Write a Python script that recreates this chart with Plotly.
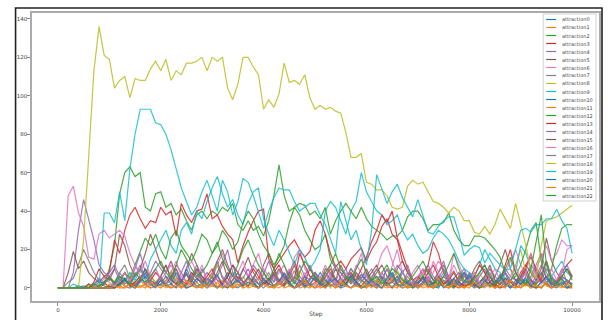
import plotly.graph_objects as go

steps = list(range(0, 10001, 100))
names = ["attraction%d" % i for i in range(23)]
x_ticks = [0, 2000, 4000, 6000, 8000, 10000]
x_tick_labels = ["0", "2000", "4000", "6000", "8000", "10000"]
y_ticks = [0, 20, 40, 60, 80, 100, 120, 140]

a0 = [0,0,0,0,1,0,2,0,1,3, 0,2,5,1,0,3,6,2,0,1, 4,2,0,1,3,7,2,0,1,4, 2,0,3,8,1,0,2,5,1,0, 3,1,0,2,6,3,0,1,4,2, 0,3,1,5,2,0,1,6,3,0, 2,4,1,0,3,7,2,0,1,3, 0,2,5,1,0,4,2,0,3,1, 6,2,0,1,3,0,2,8,1,0, 2,4,1,0,3,5,1,0,2,4, 1]
a1 = [0,0,0,0,0,0,1,0,0,2, 1,0,3,1,0,2,4,1,0,1, 2,0,1,5,2,0,1,3,0,2, 6,1,0,2,1,4,0,1,3,0, 2,5,1,0,2,8,3,0,1,2, 0,1,4,2,0,1,3,6,1,0, 2,1,0,3,1,0,2,5,1,0, 1,3,0,2,4,1,0,1,2,0, 3,1,0,2,6,1,0,3,1,0, 2,1,4,0,1,2,0,3,1,0, 1]
a2 = [0,0,0,0,0,0,0,0,0,2, 10,22,49,60,63,58,60,42,40,49, 50,42,44,38,41,35,30,38,40,36, 40,38,42,40,44,33,30,35,30,32, 27,35,48,64,48,40,42,38,30,25, 20,22,28,15,10,8,5,10,6,4, 2,5,3,8,12,6,4,2,0,1, 3,5,2,0,1,4,2,0,3,6, 4,2,0,1,3,0,2,5,3,1, 0,2,4,1,0,3,5,2,1,0, 2]
a3 = [0,0,0,0,0,0,0,3,10,6, 8,25,18,30,38,42,36,31,35,34, 42,38,40,27,44,38,34,40,41,49, 36,38,32,28,25,13,22,29,35,40, 41,15,10,14,18,22,25,20,16,19, 30,35,28,18,11,14,10,15,18,21, 14,20,24,32,36,28,25,14,8,4, 2,6,12,24,18,8,3,1,0,2, 4,1,0,3,6,2,0,1,4,2, 8,12,16,10,4,2,0,3,8,12, 15]
a4 = [0,0,0,8,30,46,35,25,12,8, 6,10,4,8,3,6,12,5,8,14, 10,6,4,12,8,3,6,10,4,8, 5,12,6,3,8,4,10,6,12,8, 4,2,6,10,4,8,3,12,6,4, 8,5,2,6,12,8,4,10,6,3, 6,10,4,8,3,6,12,8,4,2, 4,8,12,6,3,8,4,2,6,10, 4,2,8,12,6,3,5,10,6,4, 2,6,12,8,4,10,6,3,8,12, 6]
a5 = [0,0,8,19,10,14,8,5,3,6, 4,10,28,22,12,6,10,18,28,20, 12,8,14,6,3,10,18,12,6,4, 8,14,20,12,6,3,10,16,8,4, 12,18,10,4,2,8,14,6,3,10, 6,3,10,8,4,12,6,2,8,5, 10,4,8,12,6,3,10,14,8,4, 2,6,10,4,8,12,6,3,5,8, 4,10,14,8,3,6,12,20,10,4, 6,12,8,4,10,26,14,8,4,2, 6]
a6 = [0,0,48,53,39,32,16,15,28,30, 26,28,30,27,18,12,8,14,6,10, 4,8,12,6,3,10,14,8,4,2, 6,12,18,10,4,8,14,6,3,5, 10,6,3,8,12,4,16,20,10,6, 4,2,8,5,3,10,6,4,12,8, 3,6,10,18,22,14,6,4,2,8, 12,6,3,8,14,10,4,18,12,6, 4,8,3,6,10,4,2,8,14,20, 12,6,4,10,16,22,14,18,25,22, 22]
a7 = [0,0,3,5,12,20,14,8,4,2, 6,3,8,12,5,2,4,10,6,3, 1,4,8,3,0,2,6,12,4,1, 3,6,2,0,4,8,3,1,5,2, 0,3,7,2,1,4,9,3,0,2, 5,1,3,8,2,0,4,6,1,3, 7,2,0,4,10,3,1,2,6,2, 0,3,8,4,1,2,5,9,3,0, 2,6,1,3,8,2,0,4,3,1, 5,2,0,3,7,14,6,2,1,4, 2]
a8 = [0,0,0,0,0,0,2,1,0,3, 5,2,0,4,8,3,1,2,6,2, 0,3,9,4,1,2,5,3,0,4, 7,12,5,2,0,3,6,2,1,4, 8,3,0,2,5,1,3,9,4,1, 2,6,3,0,4,2,1,5,8,3, 0,2,6,3,1,4,9,5,2,0, 3,7,2,1,4,2,0,3,6,2, 1,4,8,3,0,2,5,1,3,12, 20,8,2,0,3,6,2,1,4,2, 1]
a9 = [0,0,0,2,1,0,0,0,0,0, 0,2,5,3,8,4,10,6,15,20, 25,30,22,18,30,34,28,40,36,45, 52,58,49,42,46,38,33,44,50,52, 36,28,22,30,25,18,12,20,16,10, 14,20,40,45,42,35,28,40,45,60, 50,45,40,38,33,35,38,30,25,28, 22,18,20,26,30,28,25,20,14,10, 8,6,12,20,15,10,8,5,4,8, 22,18,10,5,3,2,6,10,14,8, 6]
a10 = [0,0,0,0,0,1,0,2,4,1, 0,3,1,5,2,0,4,8,3,1, 2,6,2,0,3,10,4,1,2,5, 3,0,2,6,12,4,1,3,2,0, 5,2,1,4,7,3,0,2,6,1, 3,8,4,1,2,5,2,0,3,7, 4,1,2,6,3,0,4,9,2,1, 3,5,1,0,2,6,3,1,4,8, 2,0,3,5,1,2,7,3,0,2, 6,2,1,4,8,3,0,2,5,1, 0]
a11 = [0,0,0,0,0,0,0,1,0,0, 2,0,1,0,3,1,0,2,0,1, 4,1,0,2,1,0,3,1,0,2, 1,0,4,2,0,1,3,0,1,0, 2,1,0,3,6,1,0,2,1,0, 3,0,1,2,0,4,1,0,2,1, 0,3,1,0,2,5,1,0,1,2, 0,1,3,0,2,1,0,4,1,0, 2,1,0,3,1,0,2,4,1,0, 1,3,0,2,7,1,0,2,1,0, 0]
a12 = [0,0,0,0,0,0,0,0,0,0, 0,0,3,8,5,12,20,26,22,28, 20,15,26,30,22,18,14,20,28,25, 18,22,30,26,20,24,34,40,36,28, 22,18,12,16,22,34,42,44,43,38, 40,36,42,28,35,40,44,40,36,42, 36,32,30,28,25,27,27,30,37,40, 40,36,30,33,33,34,39,30,25,22, 22,27,27,26,23,20,16,8,4,6, 12,20,30,34,14,5,10,22,31,33, 33]
a13 = [0,0,0,0,0,0,0,0,0,0, 0,0,2,4,1,3,6,2,4,8, 5,2,6,10,4,2,8,5,3,6, 10,4,2,6,12,8,3,5,10,6, 2,4,8,12,6,3,5,18,12,6, 4,2,6,10,4,2,5,8,4,10, 16,24,30,38,34,40,26,18,10,4, 6,3,8,12,6,2,4,8,3,1, 2,6,12,8,3,1,4,12,20,8, 4,10,18,8,3,6,2,4,6,10, 6]
a14 = [0,0,0,0,0,0,0,2,5,3, 8,12,6,2,4,10,18,8,3,1, 6,12,4,2,8,14,6,3,10,5, 2,6,12,20,8,3,5,10,4,2, 7,14,6,2,4,9,3,1,6,12, 5,2,8,4,1,6,10,3,2,5, 8,3,1,4,10,6,2,8,12,4, 1,3,6,2,8,14,5,2,4,7, 3,1,6,10,4,2,5,8,3,1, 4,8,2,6,12,5,2,4,10,3, 2]
a15 = [0,0,0,0,0,0,2,0,1,3, 6,2,4,8,3,1,5,10,4,2, 6,12,5,2,4,8,3,10,6,2, 4,8,14,5,2,6,3,1,5,10, 4,2,8,3,1,6,12,4,2,5, 8,3,1,4,10,5,2,6,3,1, 4,8,12,5,2,3,6,2,4,1, 5,10,4,2,6,3,1,5,8,2, 4,1,3,6,12,4,2,5,3,1, 6,10,4,2,5,14,3,2,6,4, 2]
a16 = [0,0,0,0,0,0,0,0,2,5, 3,1,4,8,3,12,6,2,5,10, 4,2,8,14,6,3,1,5,12,4, 2,6,3,1,8,4,2,6,12,18, 8,3,5,2,6,10,4,2,8,3, 1,5,12,6,2,4,8,3,10,18, 6,2,4,8,3,12,20,8,4,2, 6,10,4,14,8,3,5,12,6,2, 4,8,3,1,6,10,4,2,6,12, 4,8,18,6,2,5,10,4,8,20, 22]
a17 = [0,0,0,0,0,0,0,1,3,2, 5,2,8,4,2,6,10,4,1,3, 6,2,4,10,3,1,5,8,3,2, 6,14,5,2,4,8,3,1,6,2, 4,8,3,10,5,2,6,3,1,4, 8,2,5,12,4,2,6,3,8,4, 2,5,10,4,1,3,6,2,8,4, 2,6,3,1,5,10,4,2,6,3, 8,4,2,5,10,6,3,1,4,8, 3,2,6,12,18,8,3,2,6,4, 2]
a18 = [0,0,0,0,0,25,67,113,136,121, 119,104,108,110,99,109,108,108,114,118, 113,119,108,113,111,117,117,118,120,113, 120,118,120,104,98,106,120,120,115,111, 93,98,94,101,117,107,108,106,111,99, 93,95,93,94,92,91,81,68,68,70, 55,54,51,51,48,42,41,42,53,56, 54,55,50,45,44,42,39,42,40,35, 35,29,28,32,28,33,41,36,31,44, 33,22,9,5,22,35,36,37,39,41, 43]
a19 = [0,0,0,0,0,0,0,0,0,39, 39,34,50,35,62,80,93,93,93,86, 85,80,72,62,52,45,38,42,50,56, 48,40,56,50,38,45,57,55,48,40, 31,40,47,52,51,51,45,40,42,44, 44,38,33,25,18,45,35,25,30,20, 12,30,59,52,44,50,54,47,42,37, 46,38,29,28,32,35,37,37,28,17, 20,22,21,13,18,15,12,9,10,20, 30,31,29,33,33,36,36,41,35,31, 18]
a20 = [0,0,0,0,0,0,0,0,0,0, 1,0,2,5,1,0,3,6,2,0, 4,1,2,8,3,0,1,5,2,0, 3,7,1,0,2,4,1,6,3,0, 2,5,1,3,8,2,0,4,1,2, 6,2,0,3,5,1,2,7,3,0, 1,4,2,0,5,8,2,1,3,0, 2,6,1,3,4,0,2,5,1,3, 7,2,0,4,1,3,6,2,0,4, 2,5,1,0,3,6,2,1,3,0, 1]
a21 = [0,0,0,0,0,0,0,0,0,0, 0,1,0,0,2,0,1,0,3,1, 0,2,0,1,0,4,1,0,2,0, 1,3,0,1,0,2,0,5,1,0, 2,0,1,3,0,1,0,2,4,1, 0,1,0,2,0,3,1,0,1,0, 2,0,4,1,0,1,0,3,0,1, 2,0,1,0,5,1,0,2,0,1, 0,3,1,0,2,0,1,0,4,1, 0,2,0,1,0,3,0,1,0,2, 0]
a22 = [0,0,0,0,0,0,0,2,1,3, 5,3,6,4,2,8,5,3,6,10, 14,8,5,12,20,15,10,6,8,12, 18,24,15,10,6,12,20,25,18,12, 8,4,10,18,12,6,2,8,14,10, 5,3,8,12,18,10,6,4,10,15, 8,4,6,2,5,10,8,4,3,6, 10,14,8,4,2,6,12,18,10,4, 2,5,8,12,6,2,4,10,16,8, 4,2,10,24,38,12,4,2,6,10, 4]

series = [a0, a1, a2, a3, a4, a5, a6, a7, a8, a9, a10, a11, a12, a13, a14, a15,
          a16, a17, a18, a19, a20, a21, a22]
tab10 = ['#1f77b4', '#ff7f0e', '#2ca02c', '#d62728', '#9467bd',
         '#8c564b', '#e377c2', '#7f7f7f', '#bcbd22', '#17becf']

fig = go.Figure()
for i, (nm, ys) in enumerate(zip(names, series)):
    fig.add_trace(go.Scatter(x=steps, y=ys, mode='lines', name=nm,
                             line=dict(color=tab10[i % 10], width=1.2),
                             opacity=0.85, showlegend=False))

# pixel geometry of plot area
L, R, T, B = 32, 601, 13, 301
W, H = R - L, B - T
def px(x):
    return (x - L) / W
def py(y):
    return (B - y) / H

shapes = []
annotations = []
# outer dark frame
shapes.append(dict(type='rect', xref='paper', yref='paper',
                   x0=px(15.5), x1=px(604), y0=py(330), y1=py(8),
                   line=dict(color='#222', width=1.6), layer='above'))
# legend box
shapes.append(dict(type='rect', xref='paper', yref='paper',
                   x0=px(545), x1=px(598), y0=py(201), y1=py(14),
                   line=dict(color='#d0d0d0', width=1), fillcolor='rgba(255,255,255,0.85)',
                   layer='above'))
for i, nm in enumerate(names):
    yy = 19.5 + i * 8.0
    shapes.append(dict(type='line', xref='paper', yref='paper',
                       x0=px(548), x1=px(558), y0=py(yy), y1=py(yy),
                       line=dict(color=tab10[i % 10], width=1.2), layer='above'))
    annotations.append(dict(xref='paper', yref='paper', x=px(562), y=py(yy),
                            text=nm, showarrow=False, xanchor='left', yanchor='middle',
                            font=dict(size=5, color='#444', family='DejaVu Sans')))
annotations.append(dict(xref='paper', yref='paper', x=0.5, y=py(314), text='Step',
                        showarrow=False, xanchor='center', yanchor='middle',
                        font=dict(size=6, color='#444', family='DejaVu Sans')))

fig.update_layout(
    width=608, height=320,
    margin=dict(l=L, r=608 - R, t=T, b=320 - B),
    paper_bgcolor='white', plot_bgcolor='white',
    shapes=shapes, annotations=annotations,
    font=dict(family='DejaVu Sans', size=5.5, color='#444'),
    xaxis=dict(range=[-504, 10523], tickvals=x_ticks, ticktext=x_tick_labels,
               showgrid=False, zeroline=False, showline=True, mirror=True,
               linecolor='#aaaaaa', linewidth=1.5, ticks='outside', ticklen=3,
               tickcolor='#888', tickfont=dict(size=5.5, color='#444')),
    yaxis=dict(range=[-6.8, 143.1], tickvals=y_ticks,
               showgrid=False, zeroline=False, showline=True, mirror=True,
               linecolor='#aaaaaa', linewidth=1.5, ticks='outside', ticklen=3,
               tickcolor='#888', tickfont=dict(size=5.5, color='#444'),
               ticklabelstandoff=-1),
)

fig.write_html("out.html", config={'displayModeBar': False},
               post_script="document.body.style.margin='0';document.body.style.overflow='hidden';")
